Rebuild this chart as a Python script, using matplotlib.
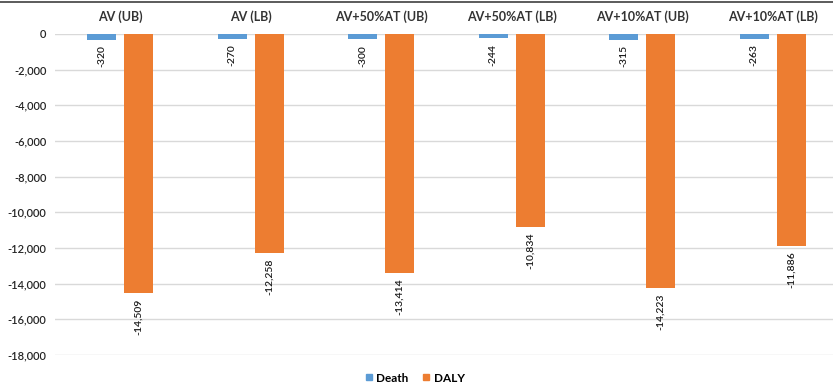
import matplotlib
matplotlib.use("Agg")
import matplotlib.pyplot as plt
import numpy as np
from matplotlib.lines import Line2D

categories = ["AV (UB)", "AV (LB)", "AV+50%AT (UB)", "AV+50%AT (LB)",
              "AV+10%AT (UB)", "AV+10%AT (LB)"]
death = [-320, -270, -300, -244, -315, -263]
daly = [-14509, -12258, -13414, -10834, -14223, -11886]
yticks = list(range(0, -18001, -2000))

plt.rcParams["font.family"] = ["Lato", "DejaVu Sans"]

fig = plt.figure(figsize=(8.33, 3.87), dpi=100)
ax = fig.add_axes([0.0657, 0.0827, 0.9405, 0.8295])

x = np.arange(len(categories))
w = 0.222
off = 0.142
blue = "#5B9BD5"
orange = "#ED7D31"

ax.bar(x - off, death, width=w, color=blue, zorder=3, label="Death")
ax.bar(x + off, daly, width=w, color=orange, zorder=3, label="DALY")

for xi, v in zip(x - off, death):
    ax.annotate(f"{v:,}", (xi, v), xytext=(0, -4), textcoords="offset points",
                rotation=90, ha="center", va="top", fontsize=7.5,
                color="#1a1a1a", fontweight="semibold")
for xi, v in zip(x + off, daly):
    ax.annotate(f"{v:,}", (xi, v), xytext=(0, -4), textcoords="offset points",
                rotation=90, ha="center", va="top", fontsize=7.5,
                color="#1a1a1a", fontweight="semibold")

ax.set_xlim(-0.5, len(categories) - 0.5)
ax.set_ylim(-18000, 0)
ax.set_yticks(yticks)
ax.set_yticklabels([f"{t:,}" for t in yticks], fontsize=8, color="#262626",
                   fontweight="semibold")
ax.yaxis.grid(True, color="#D9D9D9", linewidth=1, zorder=0)
ax.tick_params(axis="y", length=0, pad=6)

ax.xaxis.tick_top()
ax.set_xticks(x)
ax.set_xticklabels(categories, fontsize=9, fontweight="bold", color="#333333")
ax.tick_params(axis="x", length=0, pad=8)

for s in ax.spines.values():
    s.set_visible(False)

handles = [Line2D([0], [0], marker="s", color="none", markerfacecolor=blue,
                  markeredgecolor=blue, markersize=5, label="Death"),
           Line2D([0], [0], marker="s", color="none", markerfacecolor=orange,
                  markeredgecolor=orange, markersize=5, label="DALY")]
fig.legend(handles=handles, loc="center", bbox_to_anchor=(0.497, 0.023),
           ncol=2, frameon=False, handletextpad=0.1,
           columnspacing=1.0, handlelength=1.0,
           prop={"weight": "bold", "size": 8.5})

# thin rule along the top edge of the figure
fig.add_artist(Line2D([0, 1], [0.995, 0.995], transform=fig.transFigure,
                      color="#404040", linewidth=1.2))

fig.savefig("out.png", dpi=100)
